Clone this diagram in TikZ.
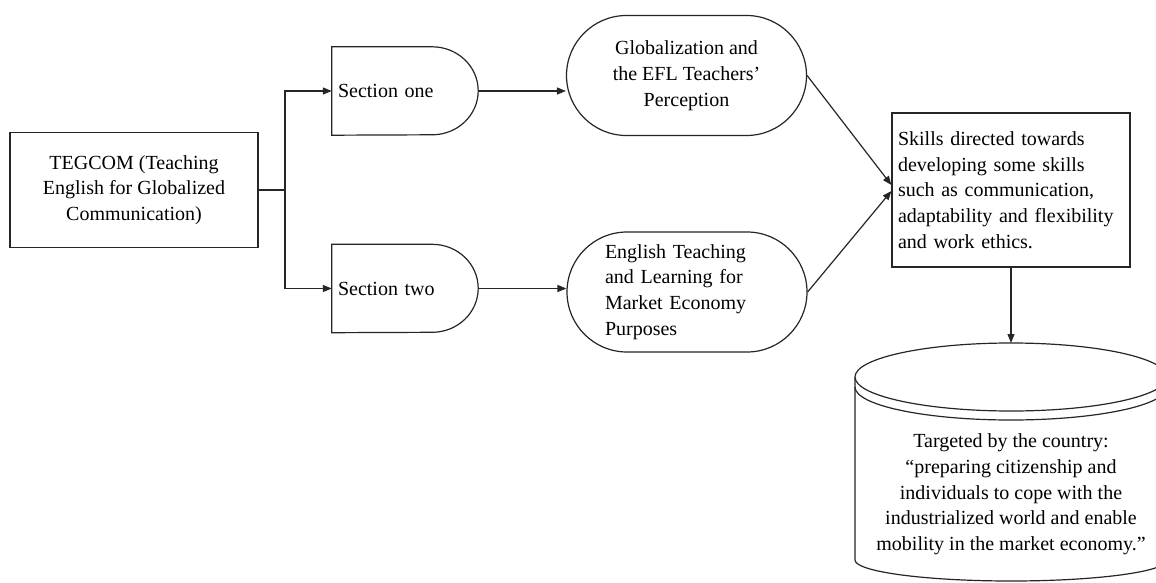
\documentclass[tikz,border=0pt]{standalone}
\usepackage{fontspec}
\setmainfont{Liberation Serif}
\usetikzlibrary{shapes.misc,arrows.meta,calc}
\begin{document}
\begin{tikzpicture}[x=1pt,y=-1pt,
  every node/.style={font=\fontsize{20}{25.7}\selectfont},
  ln/.style={draw=black!85,line width=1.2pt},
  arr/.style={ln,-{Triangle[length=9pt,width=7pt]}},
  boxn/.style={ln,rectangle,inner sep=0pt},
  secn/.style={draw=none,rectangle,minimum width=146pt,minimum height=88pt,inner xsep=6pt,inner ysep=0pt,text width=134pt,align=left},
  stad/.style={ln,rounded rectangle,inner sep=0pt,minimum width=240pt,minimum height=120pt}
]
\clip (0,0) rectangle (1156,583);
\fill[white] (0,0) rectangle (1156,583);

\node[boxn,minimum width=248pt,minimum height=115pt,align=center] (teg) at (134,190)
  {TEGCOM (Teaching\\English for Globalized\\Communication)};

\node[secn] (sec1) at (405,91) {Section one};
\node[secn] (sec2) at (405,288.5) {Section two};
\foreach \s in {sec1,sec2}{
  \draw[ln] (\s.north west) -- ([xshift=-46pt]\s.north east)
    arc[start angle=90,end angle=-90,x radius=46pt,y radius=44pt]
    -- (\s.south west) -- cycle;
}

\node[stad,align=center] (glob) at (686.5,75.5)
  {Globalization and\\the EFL Teachers’\\Perception};
\node[stad,text width=164pt,align=left] (eng) at (687,292)
  {English Teaching\\and Learning for\\Market Economy\\Purposes};

\node[boxn,minimum width=238pt,minimum height=154pt,text width=226pt,align=left] (skills) at (1011,190)
  {Skills directed towards\\developing some skills\\such as communication,\\adaptability and flexibility\\and work ethics.};

% cylinder
\draw[ln,fill=white] (855,377) -- (855,560)
  arc[start angle=180,end angle=360,x radius=156pt,y radius=21pt]
  -- (1167,377);
\draw[ln,fill=white] (1011,377) ellipse [x radius=156pt,y radius=34pt];
\draw[ln] (855,387) arc[start angle=180,end angle=360,x radius=156pt,y radius=33pt];
\coordinate (cyltop) at (1011,343);
\node[align=center,inner sep=0pt] (cyl) at (1011,494.5)
  {Targeted by the country:\\“preparing citizenship and\\individuals to cope with the\\industrialized world and enable\\mobility in the market economy.”};

% connectors
\coordinate (jn) at (285,190);
\draw[ln] (teg.east) -- (jn);
\draw[arr] (jn) |- (sec1.west);
\draw[arr] (jn) |- (sec2.west);
\draw[arr] (sec1.east) -- (sec1.east -| glob.west);
\draw[arr] (sec2.east) -- (sec2.east -| eng.west);
\draw[arr] (glob.east) -- ([yshift=5pt]skills.west);
\draw[arr] (eng.east) -- ([yshift=-1pt]skills.west);
\draw[arr] (skills.south) -- (cyltop);
\end{tikzpicture}
\end{document}
